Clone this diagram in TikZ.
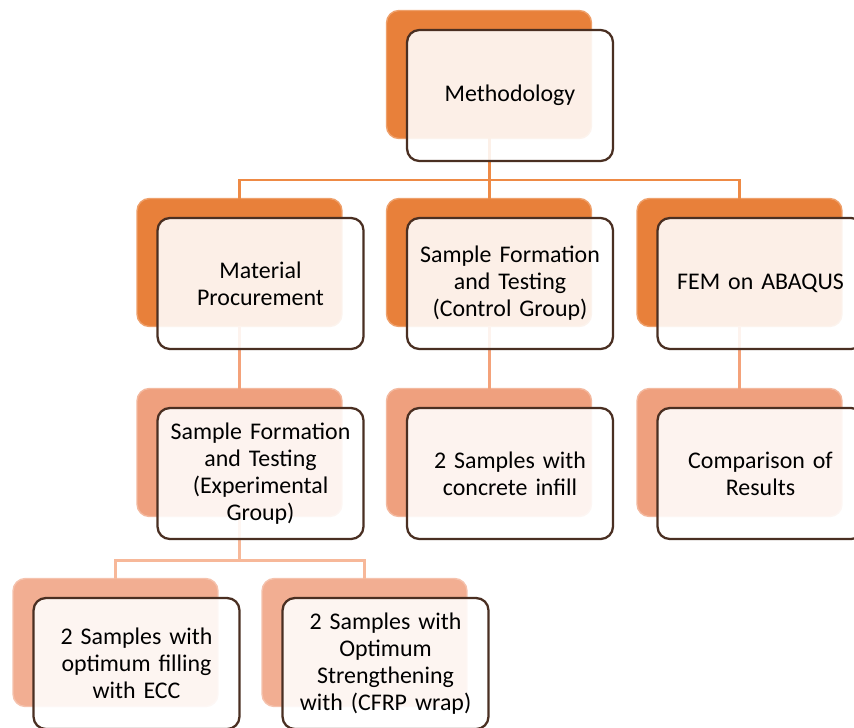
\documentclass[tikz,border=0pt]{standalone}
\usepackage{fontspec}
\setmainfont{Carlito}
\definecolor{darkorange}{HTML}{E8803A}
\definecolor{midsalmon}{HTML}{EFA07E}
\definecolor{lightsalmon}{HTML}{F2AE92}
\definecolor{frameline}{HTML}{4A2F22}
\definecolor{busA}{HTML}{EE8A45}
\definecolor{busB}{HTML}{F4A27A}
\definecolor{busC}{HTML}{F7B899}

\begin{document}
\begin{tikzpicture}[x=0.02cm,y=-0.02cm,
    back/.style={rounded corners=7pt,minimum width=4.1cm,minimum height=2.56cm,inner sep=0pt,outer sep=0pt,line width=0.8pt},
    front/.style={rounded corners=7pt,minimum width=4.12cm,minimum height=2.62cm,inner sep=0pt,outer sep=0pt,
        draw=frameline,line width=1.3pt,fill=white,fill opacity=0.88,text opacity=1,
        text width=3.9cm,align=center,font=\fontsize{13.6}{15.4}\selectfont},
    conn/.style={line width=1.7pt}]
    \useasboundingbox (0,0) rectangle (854,727);
    % back boxes
    \node[back,fill=darkorange,draw=darkorange!75!white](methB)at(489,74.5){};
    \node[back,fill=darkorange,draw=darkorange!75!white](matB)at(239.5,262.5){};
    \node[back,fill=darkorange,draw=darkorange!75!white](ctrlB)at(489,262.5){};
    \node[back,fill=darkorange,draw=darkorange!75!white](femB)at(739.5,262.5){};
    \node[back,fill=midsalmon,draw=midsalmon!75!white](expB)at(239.5,452.5){};
    \node[back,fill=midsalmon,draw=midsalmon!75!white](infB)at(489,452.5){};
    \node[back,fill=midsalmon,draw=midsalmon!75!white](cmpB)at(739.5,452.5){};
    \node[back,fill=lightsalmon,draw=lightsalmon!75!white](eccB)at(115.5,642.5){};
    \node[back,fill=lightsalmon,draw=lightsalmon!75!white](cfrpB)at(364.5,642.5){};
    % connectors
    \coordinate(busone)at(489,180);
    \coordinate(bustwo)at(239.5,560);
    \draw[conn,busA](methB.south)--(busone)-|(matB.north);
    \draw[conn,busA](busone)-|(femB.north);
    \draw[conn,busA](busone)--(ctrlB.north);
    \draw[conn,busB](matB.south)--(expB.north);
    \draw[conn,busB](ctrlB.south)--(infB.north);
    \draw[conn,busB](femB.south)--(cmpB.north);
    \draw[conn,busC](expB.south)--(bustwo)-|(eccB.north);
    \draw[conn,busC](bustwo)-|(cfrpB.north);
    % front boxes
    \node[front](meth)at([shift={(21,21)}]methB.center){Methodology};
    \node[front](mat)at([shift={(21,21)}]matB.center){Material\\Procurement};
    \node[front](ctrl)at([shift={(21,21)}]ctrlB.center){Sample Formation\\and Testing\\(Control Group)};
    \node[front](fem)at([shift={(21,21)}]femB.center){FEM on ABAQUS};
    \node[front](exp)at([shift={(21,21)}]expB.center){Sample Formation\\and Testing\\(Experimental\\Group)};
    \node[front](inf)at([shift={(21,21)}]infB.center){2 Samples with\\concrete infill};
    \node[front](cmp)at([shift={(21,21)}]cmpB.center){Comparison of\\Results};
    \node[front](ecc)at([shift={(21,21)}]eccB.center){2 Samples with\\optimum filling\\with ECC};
    \node[front](cfrp)at([shift={(21,21)}]cfrpB.center){2 Samples with\\Optimum\\Strengthening\\with (CFRP wrap)};
\end{tikzpicture}
\end{document}
